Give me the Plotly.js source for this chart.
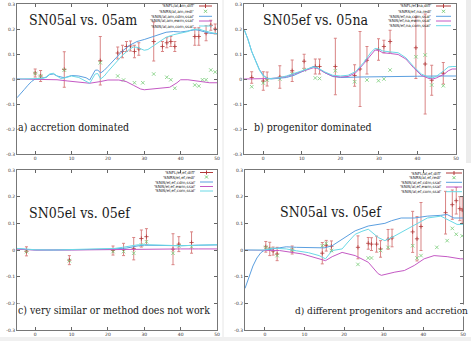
<!DOCTYPE html>
<html lang="en">
<head>
<meta charset="UTF-8">
<title>SN pair comparisons</title>
<script src="https://cdn.plot.ly/plotly-3.0.1.min.js"></script>
<style>
  body { margin: 0; background: #fff; }
  #chart { width: 471px; height: 341px; }
</style>
</head>
<body>
<div id="chart"></div>
<script>
const xTickVals = [0, 10, 20, 30, 40, 50];
const xTickText = ['0', '10', '20', '30', '40', '50'];
const yTickVals = [-0.3, -0.2, -0.1, 0, 0.1, 0.2, 0.3];
const yTickText = ['-0.3', '-0.2', '-0.1', '0', '0.1', '0.2', '0.3'];

// panel a: SN05al vs. 05am
const aDiffX = [0, 1.5, 8, 17.9, 22.7, 24, 25.1, 26.2, 27.3, 28.5, 32.6, 35, 36.2, 37.3, 38.4, 43.9, 45, 47, 48.3, 49.5];
const aDiffY = [0.024, 0.012, 0.038, 0.073, 0.104, 0.11, 0.13, 0.132, 0.11, 0.12, 0.15, 0.13, 0.145, 0.15, 0.13, 0.17, 0.17, 0.183, 0.215, 0.2];
const aDiffErr = [0.016, 0.022, 0.071, 0.097, 0.024, 0.025, 0.02, 0.02, 0.025, 0.025, 0.078, 0.02, 0.02, 0.02, 0.02, 0.035, 0.035, 0.03, 0.02, 0.02];
const aRedX = [0, 1.5, 8, 17.9, 22.7, 24.3, 27.3, 29.6, 32.6, 36.2, 37.3, 38.4, 43.9, 45, 46, 47, 48.3, 49.5];
const aRedY = [0.022, 0.012, 0.036, 0.065, 0.012, -0.004, -0.015, -0.015, 0.02, 0.007, -0.003, -0.037, -0.024, -0.028, -0.003, -0.003, 0.036, 0.028];
const aCdmX = [-5, -4, -3, -2, -1, 0, 1, 3, 4, 5, 6, 8, 10, 12, 14, 15, 16.5, 17.2, 18, 19, 20, 22, 24, 26, 28, 30, 32, 34, 36, 38, 40, 42, 44, 45, 46, 48, 50];
const aCdmY = [-0.075, -0.06, -0.042, -0.025, -0.01, 0, 0.003, 0.006, 0.018, 0.02, 0.012, 0.005, 0.014, 0.012, 0.005, -0.004, 0.035, 0.036, 0.024, 0.035, 0.05, 0.08, 0.112, 0.135, 0.15, 0.158, 0.168, 0.18, 0.187, 0.19, 0.188, 0.192, 0.197, 0.195, 0.19, 0.183, 0.182];
const aEwmX = [-5, 0, 3, 6, 9, 12, 15, 18, 20, 23, 25, 27, 29, 30, 32, 34, 37, 39, 40, 42, 44, 46, 48, 50];
const aEwmY = [0, 0, 0, -0.003, -0.008, -0.012, -0.017, -0.01, -0.004, -0.004, -0.01, -0.025, -0.04, -0.043, -0.04, -0.037, -0.033, -0.015, -0.003, -0.003, -0.008, -0.013, -0.015, -0.015];
const aComX = [-5, -2, 0, 2, 3, 4, 5, 6, 7, 8, 10, 12, 14, 15, 16.5, 17.2, 18, 19, 20, 22, 24, 26, 27, 28, 29, 30, 31, 32, 34, 36, 38, 40, 42, 43, 44, 45, 46, 48, 50];
const aComY = [0, 0, 0.001, 0.002, 0.008, 0.02, 0.023, 0.012, 0.002, 0.004, 0.012, 0.006, -0.01, -0.017, 0.02, 0.022, 0, 0.012, 0.03, 0.062, 0.095, 0.12, 0.128, 0.127, 0.12, 0.115, 0.118, 0.128, 0.15, 0.167, 0.177, 0.182, 0.19, 0.197, 0.2, 0.2, 0.195, 0.186, 0.18];
const aKey = ["'SNFL/al,am,diff'", "'SNRS/al,am,redl'", "'SNIS/al,am,cdm,ssal'", "'SNIS/al,am,ewm,ssal'", "'SNIS/al,am,com,ssal'"];

// panel b: SN05ef vs. 05na
const bDiffX = [-3, 0, 1, 4.3, 7.5, 10.6, 13.5, 14.6, 18.7, 23.7, 25.1, 26.9, 29.9, 31.3, 32.9, 39.6, 42, 43.7, 46.7];
const bDiffY = [0.006, -0.008, 0, 0.008, 0.033, 0.071, 0.05, 0.05, 0.05, 0.014, 0.04, 0.075, 0.118, 0.13, 0.15, 0.125, 0.06, -0.005, 0.023];
const bDiffErr = [0.023, 0.037, 0.028, 0.045, 0.043, 0.028, 0.03, 0.03, 0.113, 0.043, 0.15, 0.055, 0.043, 0.025, 0.045, 0.123, 0.2, 0.06, 0.043];
const bRedX = [-3, 0, 1, 4.3, 7.5, 10.6, 13.5, 14.6, 18.7, 23.7, 26.9, 29.9, 31.3, 32.9, 39.6, 42, 43.7, 46.7];
const bRedY = [-0.031, -0.016, -0.004, 0, 0.02, 0.036, 0.004, 0.002, 0.033, -0.011, -0.004, -0.007, 0, 0.036, 0.089, 0.096, -0.024, -0.027];
const bCdmX = [-5, -4, -3, -2, -1, 0, 1, 2, 4, 6, 8, 10, 12, 13, 14, 16, 18, 20, 25, 30, 35, 40, 45, 50];
const bCdmY = [0.2, 0.16, 0.11, 0.07, 0.038, 0.015, 0.003, 0, 0.002, 0.006, 0.015, 0.03, 0.045, 0.05, 0.046, 0.025, 0.01, 0.006, 0.008, 0.01, 0.01, 0.011, 0.012, 0.012];
const bEwmX = [-5, 0, 2, 4, 6, 8, 10, 12, 13, 14, 16, 18, 20, 22, 24, 26, 28, 29, 30, 31, 33, 35, 37, 39, 41, 43, 44, 45, 47, 48, 49, 50];
const bEwmY = [0, 0, 0.002, 0.005, 0.01, 0.02, 0.03, 0.04, 0.045, 0.043, 0.025, 0.012, 0.008, 0.01, 0.025, 0.06, 0.1, 0.116, 0.114, 0.105, 0.102, 0.098, 0.08, 0.045, 0.015, 0.002, 0, 0.005, 0.02, 0.033, 0.04, 0.04];
const bComX = [-5, -4, -3, -2, -1, 0, 1, 2, 4, 6, 8, 10, 12, 13, 14, 16, 18, 20, 22, 24, 26, 28, 29, 30, 31, 33, 35, 37, 39, 41, 43, 44, 45, 47, 48, 49, 50];
const bComY = [0.2, 0.16, 0.11, 0.07, 0.035, 0.012, 0.003, 0.002, 0.005, 0.012, 0.022, 0.033, 0.043, 0.048, 0.045, 0.028, 0.015, 0.012, 0.015, 0.03, 0.065, 0.108, 0.122, 0.12, 0.112, 0.11, 0.105, 0.085, 0.05, 0.02, 0.006, 0.005, 0.012, 0.035, 0.048, 0.05, 0.05];
const bKey = ["'SNFL/ef,na,diff'", "'SNRS/ef,na,redl'", "'SNIS/ef,na,cdm,ssal'", "'SNIS/ef,na,ewm,ssal'", "'SNIS/ef,na,com,ssal'"];

// panel c: SN05el vs. 05ef
const cDiffX = [-2.4, 9.4, 21.4, 24.3, 27.1, 29.2, 30.6, 37.9, 39.5, 43];
const cDiffY = [-0.005, -0.038, -0.002, 0.002, 0.005, 0.043, 0.05, 0.003, 0.022, 0.028];
const cDiffErr = [0.017, 0.017, 0.017, 0.023, 0.042, 0.032, 0.03, 0.058, 0.028, 0.04];
const cRedX = [-2.4, 9.4, 21.4, 24.3, 27.1, 29.2, 30.6, 37.9, 39.5, 43];
const cRedY = [-0.006, -0.04, -0.006, -0.006, -0.012, 0.019, 0.031, -0.012, 0.015, 0.012];
const cCdmX = [-5, -3, 0, 5, 10, 15, 20, 23, 25, 27, 28, 30, 35, 40, 45, 50];
const cCdmY = [0.005, 0.002, 0, 0, 0.002, 0.002, 0.003, 0.004, 0.007, 0.012, 0.015, 0.018, 0.017, 0.016, 0.018, 0.019];
const cEwmX = [-5, 0, 10, 20, 25, 30, 35, 40, 45, 50];
const cEwmY = [0.003, 0, 0, 0.002, 0.003, 0.004, 0.004, 0.004, 0.004, 0.004];
const cComX = [-5, -3, 0, 5, 10, 15, 20, 22, 24, 26, 28, 30, 35, 40, 45, 50];
const cComY = [0.006, 0.003, 0.001, 0, 0.001, 0.002, 0.004, 0.006, 0.01, 0.015, 0.019, 0.02, 0.018, 0.016, 0.018, 0.02];
const cKey = ["'SNFL/el,ef,diff'", "'SNRS/el,ef,redl'", "'SNIS/el,ef,cdm,ssal'", "'SNIS/el,ef,ewm,ssal'", "'SNIS/el,ef,com,ssal'"];

// panel d: SN05al vs. 05ef
const dDiffX = [0.25, 1.25, 2.1, 3.1, 6.9, 14.5, 15.5, 16.8, 23.5, 26.1, 26.9, 28.2, 29.2, 31.1, 32.1, 37.3, 38.4, 39.4, 45.6, 47.3, 48.3, 49.2, 49.8];
const dDiffY = [0.012, 0.004, -0.004, -0.015, 0, -0.012, 0.016, 0.014, 0.01, 0.025, 0.022, 0.022, 0.004, 0.04, 0.045, 0.068, 0.042, 0.088, 0.14, 0.17, 0.185, 0.155, 0.15];
const dDiffErr = [0.02, 0.025, 0.015, 0.025, 0.015, 0.04, 0.02, 0.02, 0.043, 0.022, 0.024, 0.03, 0.031, 0.037, 0.033, 0.077, 0.083, 0.09, 0.08, 0.055, 0.05, 0.045, 0.05];
const dRedX = [0.25, 1.25, 3.1, 6.9, 14.5, 15.5, 16.8, 23.5, 26.1, 26.9, 29.2, 31.1, 37.3, 38.4, 39.4, 43.4, 46, 47.3, 48.3, 49.8];
const dRedY = [0.01, 0.004, -0.021, 0, 0.016, 0.025, -0.002, -0.054, -0.03, -0.03, -0.002, 0.01, 0.016, -0.03, -0.021, 0.01, 0.035, 0.081, 0.059, 0.053];
const dCdmX = [-5, -4, -3, -2, -1, 0, 2, 3.7, 5.4, 8, 11, 13.7, 15, 17, 18.5, 20.3, 22.8, 26.1, 28, 30.3, 32, 34.4, 37.7, 41, 44.4, 46, 47.7, 50];
const dCdmY = [-0.144, -0.1, -0.06, -0.03, -0.01, 0, 0.004, 0.01, 0.012, 0.01, 0.008, 0.007, 0.008, 0.016, 0.03, 0.047, 0.072, 0.09, 0.095, 0.1, 0.11, 0.12, 0.12, 0.127, 0.13, 0.133, 0.12, 0.12];
const dEwmX = [-5, 0, 3.7, 9.5, 15.3, 17, 19.5, 22.8, 26.1, 28.6, 29.4, 32.8, 35.2, 37.7, 40.2, 42.7, 46, 49.3, 50];
const dEwmY = [0, 0, -0.002, -0.015, -0.04, -0.025, -0.009, -0.021, -0.046, -0.089, -0.095, -0.083, -0.077, -0.058, -0.033, -0.021, -0.025, -0.033, -0.033];
const dComX = [-5, 0, 2.1, 5.4, 8, 11, 13.7, 15.3, 17, 19.5, 21, 22.8, 24.5, 26.1, 28.6, 30.3, 32.8, 35.2, 38.6, 41, 44.4, 46.9, 48.5, 50];
const dComY = [0, 0, 0.007, 0.004, -0.003, -0.01, -0.021, -0.033, -0.002, 0.004, 0.03, 0.059, 0.07, 0.078, 0.047, 0.035, 0.053, 0.072, 0.102, 0.12, 0.127, 0.109, 0.096, 0.096];
const dKey = ["'SNFL/al,ef,diff'", "'SNRS/al,ef,redl'", "'SNIS/al,ef,cdm,ssal'", "'SNIS/al,ef,ewm,ssal'", "'SNIS/al,ef,com,ssal'"];

const W = 471, H = 341;
const RED = '#b23a3a', RED_BAR = '#d98484', GREEN = '#7acd7a';
const CDM = '#5b9fe0', EWM = '#c459c4', COM = '#6ad9e6';
const SERIF = 'DejaVu Serif Condensed, DejaVu Serif';
const px = v => v / W;
const py = v => 1 - v / H;

const panels = [
  { xa: 'x', ya: 'y', dom: [17, 217], vdom: [4, 154], diff: [aDiffX, aDiffY, aDiffErr], red: [aRedX, aRedY], cdm: [aCdmX, aCdmY], ewm: [aEwmX, aEwmY], com: [aComX, aComY],
    key: aKey, keyRight: 196, keyL: 199, keyR: 212, keyY: [6, 11.3, 16.3, 21, 26],
    title: 'SN05al vs. 05am', titlePos: [27, 20], label: 'a) accretion dominated', labelPos: [17, 127], labelAnchor: 'left' },
  { xa: 'x2', ya: 'y2', dom: [244, 456], vdom: [4, 154], diff: [bDiffX, bDiffY, bDiffErr], red: [bRedX, bRedY], cdm: [bCdmX, bCdmY], ewm: [bEwmX, bEwmY], com: [bComX, bComY],
    key: bKey, keyRight: 433, keyL: 436, keyR: 451, keyY: [6, 11.3, 16.3, 21, 25.7],
    title: 'SN05ef vs. 05na', titlePos: [261, 20], label: 'b) progenitor dominated', labelPos: [253, 127], labelAnchor: 'left' },
  { xa: 'x3', ya: 'y3', dom: [17, 217], vdom: [170, 330], diff: [cDiffX, cDiffY, cDiffErr], red: [cRedX, cRedY], cdm: [cCdmX, cCdmY], ewm: [cEwmX, cEwmY], com: [cComX, cComY],
    key: cKey, keyRight: 197, keyL: 200, keyR: 213, keyY: [172.5, 177, 182, 186.5, 191],
    title: 'SN05el vs. 05ef', titlePos: [27, 213], label: 'c) very similar or method does not work', labelPos: [17, 310], labelAnchor: 'left' },
  { xa: 'x4', ya: 'y4', dom: [245, 463], vdom: [170, 330], diff: [dDiffX, dDiffY, dDiffErr], red: [dRedX, dRedY], cdm: [dCdmX, dCdmY], ewm: [dEwmX, dEwmY], com: [dComX, dComY],
    key: dKey, keyRight: 443, keyL: 446, keyR: 462, keyY: [173, 177.7, 182.3, 187, 191.7],
    title: 'SN05al vs. 05ef', titlePos: [278, 212], label: 'd) different progenitors and accretion', labelPos: [469, 310], labelAnchor: 'right' }
];

const traces = [];
const annotations = [];
const shapes = [
  // faint page separators from the pasted screenshots
  { type: 'line', xref: 'paper', yref: 'paper', x0: px(223), x1: px(223), y0: 0, y1: 1, line: { color: '#e6e6e6', width: 1 } },
  { type: 'rect', xref: 'paper', yref: 'paper', x0: px(466), x1: 1, y0: py(163), y1: 1, fillcolor: '#ececec', line: { width: 0 } },
  { type: 'rect', xref: 'paper', yref: 'paper', x0: 0, x1: 1, y0: 0, y1: py(337), fillcolor: '#f0f0f0', line: { width: 0 } }
];
const layout = {
  width: W, height: H,
  margin: { l: 0, r: 0, t: 0, b: 0 },
  paper_bgcolor: '#fff', plot_bgcolor: '#fff',
  showlegend: false,
  annotations, shapes
};

const lineTrace = (xy, color, p) => ({
  x: xy[0], y: xy[1], type: 'scatter', mode: 'lines', xaxis: p.xa, yaxis: p.ya,
  line: { color, width: 1 }, hoverinfo: 'skip'
});

panels.forEach((p, i) => {
  const n = i === 0 ? '' : String(i + 1);
  const axisStyle = {
    ticks: 'inside', ticklen: 3, tickcolor: '#666',
    showline: true, linecolor: '#777', linewidth: 1, mirror: 'ticks',
    showgrid: false, zeroline: false, fixedrange: true,
    tickfont: { family: 'DejaVu Sans', size: 4.5, color: '#333' }
  };
  layout['xaxis' + n] = Object.assign({
    domain: [px(p.dom[0]), px(p.dom[1])], anchor: p.ya, range: [-5, 50],
    tickvals: xTickVals, ticktext: xTickText
  }, axisStyle);
  layout['yaxis' + n] = Object.assign({
    domain: [py(p.vdom[1]), py(p.vdom[0])], anchor: p.xa, range: [-0.3, 0.3],
    tickvals: yTickVals, ticktext: yTickText
  }, axisStyle);

  traces.push({
    x: p.diff[0], y: p.diff[1], type: 'scatter', mode: 'markers', xaxis: p.xa, yaxis: p.ya,
    marker: { symbol: 'cross-thin', size: 3, color: RED, line: { color: RED, width: 0.8 } },
    error_y: { type: 'data', array: p.diff[2], color: RED_BAR, thickness: 1, width: 1.5 }
  });
  traces.push({
    x: p.red[0], y: p.red[1], type: 'scatter', mode: 'markers', xaxis: p.xa, yaxis: p.ya,
    marker: { symbol: 'x-thin', size: 3.5, color: GREEN, line: { color: GREEN, width: 0.8 } }
  });
  traces.push(lineTrace(p.cdm, CDM, p));
  traces.push(lineTrace(p.ewm, EWM, p));
  traces.push(lineTrace(p.com, COM, p));

  annotations.push({
    xref: 'paper', yref: 'paper', x: px(p.titlePos[0]), y: py(p.titlePos[1]),
    xanchor: 'left', yanchor: 'middle', showarrow: false, text: p.title,
    font: { family: SERIF, size: 14, color: '#1a1a1a' }
  });
  annotations.push({
    xref: 'paper', yref: 'paper', x: px(p.labelPos[0]), y: py(p.labelPos[1]),
    xanchor: p.labelAnchor, yanchor: 'middle', showarrow: false, text: p.label,
    bgcolor: '#fff', borderpad: 0,
    font: { family: SERIF, size: i === 3 ? 10 : 10.5, color: '#1a1a1a' }
  });

  // gnuplot style key: tiny right-aligned names with a sample to the right
  const keyColors = [RED, GREEN, CDM, EWM, COM];
  p.key.forEach((name, k) => {
    const y = p.keyY[k];
    annotations.push({
      xref: 'paper', yref: 'paper', x: px(p.keyRight), y: py(y),
      xanchor: 'right', yanchor: 'middle', showarrow: false, text: name,
      font: { family: 'DejaVu Sans', size: 4, color: '#222' }
    });
    const mid = (p.keyL + p.keyR) / 2;
    if (k === 0) {
      shapes.push({ type: 'line', xref: 'paper', yref: 'paper', x0: px(p.keyL), x1: px(p.keyR), y0: py(y), y1: py(y), line: { color: RED, width: 1 } });
      shapes.push({ type: 'line', xref: 'paper', yref: 'paper', x0: px(mid), x1: px(mid), y0: py(y - 2), y1: py(y + 2), line: { color: RED, width: 1 } });
    } else if (k === 1) {
      shapes.push({ type: 'line', xref: 'paper', yref: 'paper', x0: px(mid - 1.5), x1: px(mid + 1.5), y0: py(y - 1.5), y1: py(y + 1.5), line: { color: GREEN, width: 1 } });
      shapes.push({ type: 'line', xref: 'paper', yref: 'paper', x0: px(mid - 1.5), x1: px(mid + 1.5), y0: py(y + 1.5), y1: py(y - 1.5), line: { color: GREEN, width: 1 } });
    } else {
      shapes.push({ type: 'line', xref: 'paper', yref: 'paper', x0: px(p.keyL), x1: px(p.keyR), y0: py(y), y1: py(y), line: { color: keyColors[k], width: 1 } });
    }
  });
});

Plotly.newPlot('chart', traces, layout, { staticPlot: true, displayModeBar: false });
</script>
</body>
</html>
